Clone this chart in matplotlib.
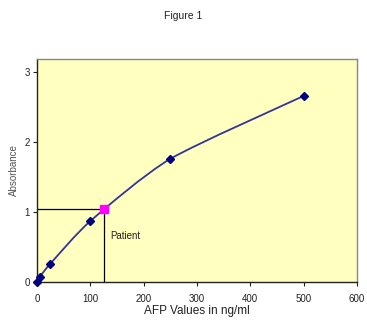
import matplotlib.pyplot as plt
import numpy as np
from matplotlib.path import Path
from matplotlib.patches import PathPatch

plt.rcParams["font.family"] = ["Liberation Sans", "DejaVu Sans"]

# standard curve
afp = [0, 5, 25, 100, 250, 500]
absorbance = [0.0, 0.07, 0.26, 0.87, 1.76, 2.66]
# patient reading
patient_afp = 125
patient_abs = 1.04


def smooth_path(x, y, t=0.35):
    # excel-ish smoothed line: catmull-rom converted to cubic beziers
    x = np.asarray(x, float)
    y = np.asarray(y, float)
    verts = [(x[0], y[0])]
    codes = [Path.MOVETO]
    n = len(x)
    for i in range(n - 1):
        i0 = max(i - 1, 0)
        i3 = min(i + 2, n - 1)
        c1 = (x[i] + (x[i + 1] - x[i0]) * t / 3, y[i] + (y[i + 1] - y[i0]) * t / 3)
        c2 = (x[i + 1] - (x[i3] - x[i]) * t / 3, y[i + 1] - (y[i3] - y[i]) * t / 3)
        verts += [c1, c2, (x[i + 1], y[i + 1])]
        codes += [Path.CURVE4] * 3
    return Path(verts, codes)


fig = plt.figure(figsize=(3.67, 3.2), dpi=100)
fig.patch.set_facecolor("white")
ax = fig.add_axes([0.1008, 0.119, 0.872, 0.697])
ax.set_facecolor("#FFFFC0")

ax.add_patch(PathPatch(smooth_path(afp, absorbance), fill=False, edgecolor="#333399", lw=1.3, zorder=3))
ax.plot(afp, absorbance, ls="none", marker="D", ms=4.5, color="#000080", zorder=4, clip_on=False)

# patient guide lines
ax.plot([0, patient_afp], [patient_abs, patient_abs], color="black", lw=0.9, zorder=2)
ax.plot([patient_afp, patient_afp], [0, patient_abs], color="black", lw=0.9, zorder=2)
ax.plot([patient_afp], [patient_abs], ls="none", marker="s", ms=6, color="#FF00FF", zorder=5)
ax.text(137, 0.66, "Patient", fontsize=7, color="#222222", va="center", ha="left")

ax.set_xlim(0, 600)
ax.set_ylim(0, 3.19)
ax.set_xticks([0, 100, 200, 300, 400, 500, 600])
ax.set_yticks([0, 1, 2, 3])
ax.tick_params(labelsize=7, length=3, width=0.8, colors="#222222", pad=2)
ax.tick_params(axis="x", pad=6)
for s in ax.spines.values():
    s.set_color("#888888")
    s.set_linewidth(1)
ax.spines["bottom"].set_color("#222222")
ax.spines["left"].set_color("#222222")

ax.set_xlabel("AFP Values in ng/ml", fontsize=8.5, color="#222222", labelpad=0.5)
ax.set_ylabel("Absorbance", fontsize=7, color="#555555", labelpad=4)
fig.text(0.5, 0.95, "Figure 1", fontsize=7.5, ha="center", va="center", color="#222222")

fig.savefig("out.png", dpi=100)
